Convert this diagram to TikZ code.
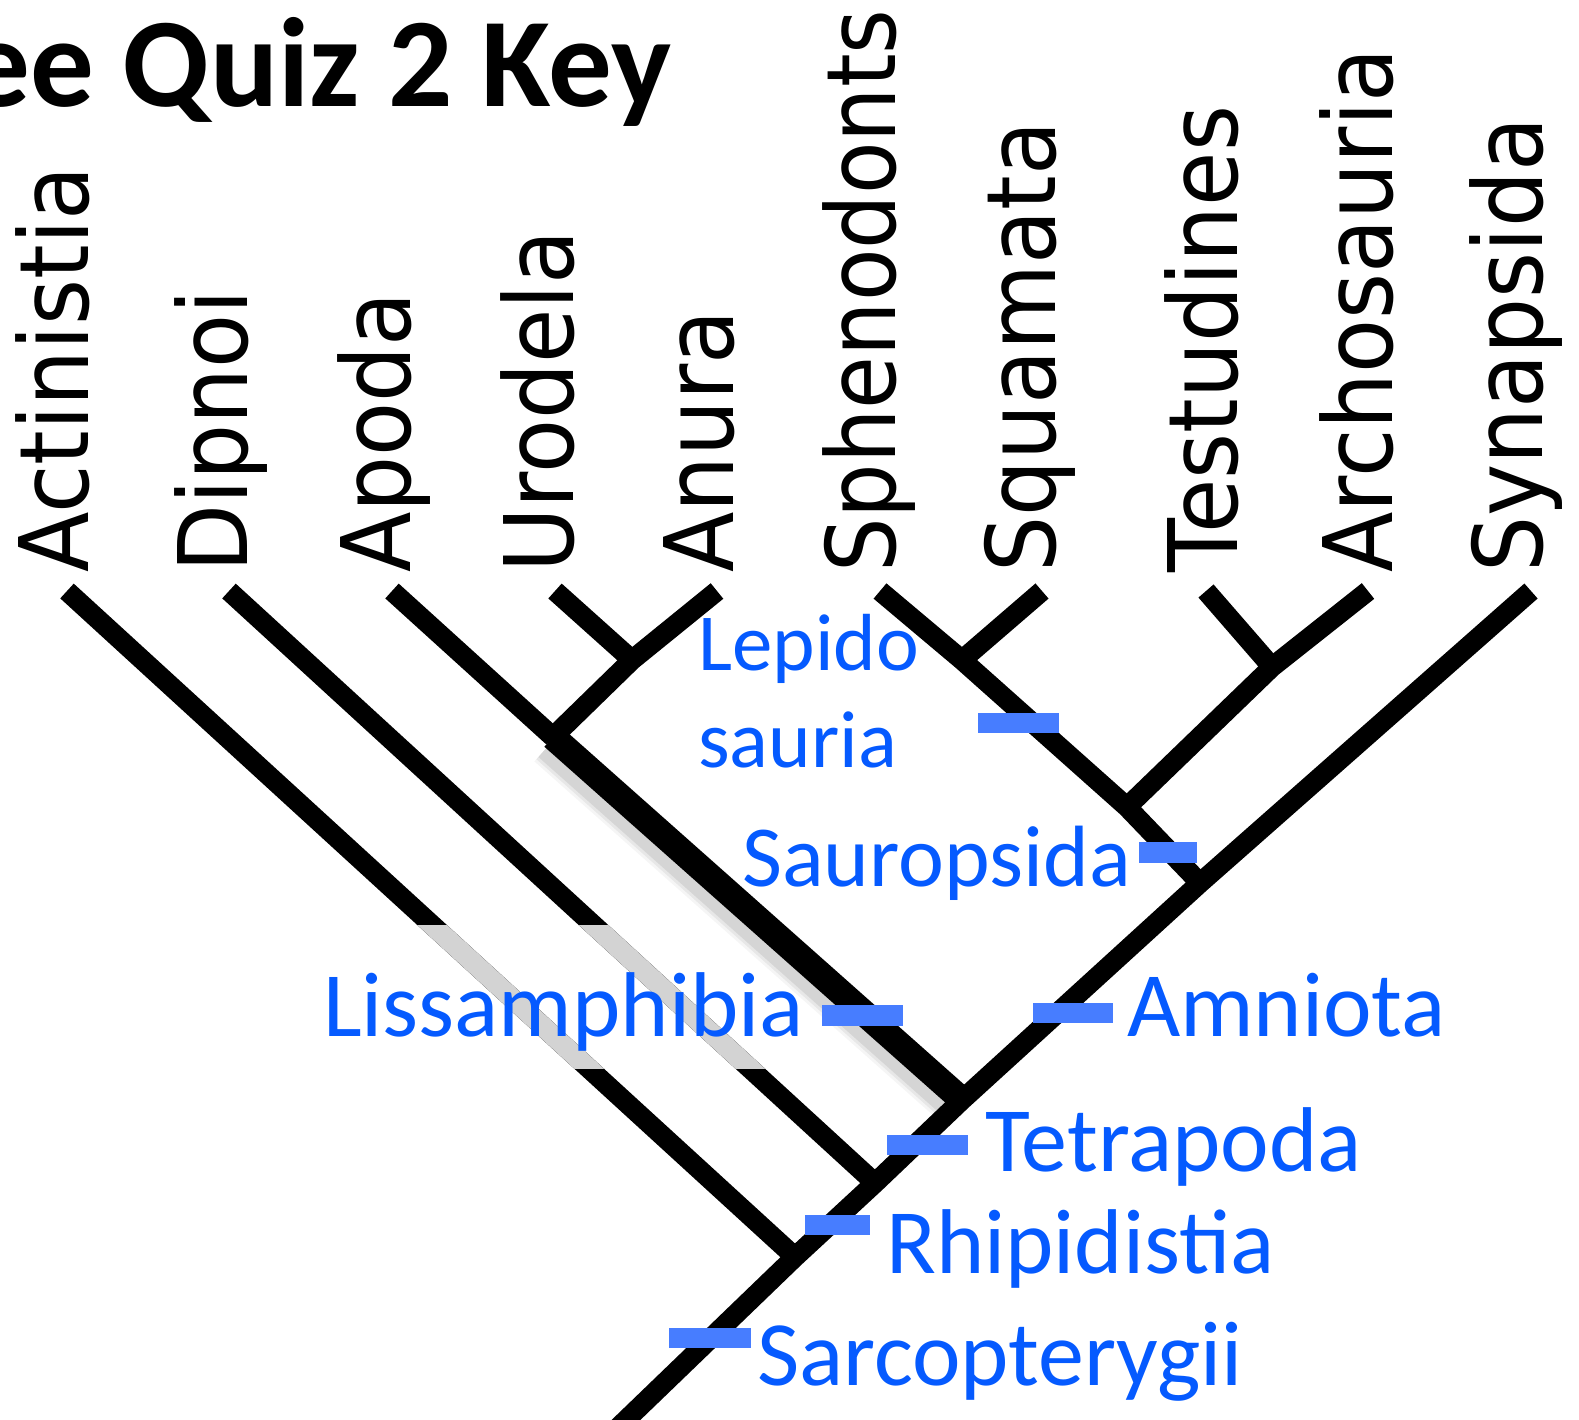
\documentclass[tikz,border=0pt]{standalone}
\usepackage{fontspec}
\newfontfamily\labfont[FakeStretch=0.92]{DejaVu Sans}
\newfontfamily\labfontn[FakeStretch=0.895]{DejaVu Sans}
\newfontfamily\calfont{Carlito}
\usetikzlibrary{calc}
\definecolor{tickblue}{RGB}{71,125,255}
\definecolor{txtblue}{RGB}{5,90,255}
\definecolor{lgray}{RGB}{211,211,211}
\begin{document}
\begin{tikzpicture}[x=1pt,y=-1pt,
  branch/.style={line width=20pt, line cap=butt, line join=miter},
  thickbranch/.style={line width=26pt, line cap=butt},
  endext/.style={shorten >=-8pt},
  taxon/.style={rotate=90, anchor=base west, inner sep=0pt, font=\labfont\fontsize{96}{96}\selectfont},
  clade/.style={anchor=base west, inner sep=0pt, text=txtblue, font=\calfont\fontsize{92}{95}\selectfont},
  tickbar/.style={fill=tickblue, draw=none}
]
\useasboundingbox (0,0) rectangle (1579,1419);

% tips
\coordinate (tA) at (67,591);
\coordinate (tD) at (229,591);
\coordinate (tAp) at (392,591);
\coordinate (tU) at (555,591);
\coordinate (tAn) at (717,591);
\coordinate (tSp) at (880,591);
\coordinate (tSq) at (1042,591);
\coordinate (tT) at (1206,591);
\coordinate (tAr) at (1368,591);
\coordinate (tSy) at (1531,591);
% internal nodes
\coordinate (R7) at (632,660);
\coordinate (R8) at (553,737);
\coordinate (R5) at (962,660);
\coordinate (R6) at (1272,667);
\coordinate (R4) at (1127,807);
\coordinate (R3) at (1200,883);
\coordinate (R2) at (962,1100);
\coordinate (R1) at (875,1183);
\coordinate (R0) at (795,1257);
\coordinate (root) at (600,1445);

% shadow of the Lissamphibia stem
\foreach \w/\o in {44/0.04,38/0.06,32/0.08}{
  \draw[line width=\w pt, black, opacity=\o, line cap=butt]
    ($(R8)+(-4,8)$) -- ($(R2)+(-4,8)$);
}

% tree
\draw[branch] (tSy) -- (R3) -- (R2) -- (R1) -- (R0) -- (root);
\draw[branch,endext] (tA) -- (R0);
\draw[branch,endext] (tD) -- (R1);
\draw[branch] (tAp) -- (R8);
\draw[thickbranch,endext] (R8) -- (R2);
\draw[branch,endext] (tU) -- (R7);
\draw[branch,endext] (tAn) -- (R7) -- (R8);
\draw[branch,endext] (tSp) -- (R5) -- (R4) -- (R3);
\draw[branch,endext] (tSq) -- (R5);
\draw[branch,endext] (tT) -- (R6);
\draw[branch,endext] (tAr) -- (R6) -- (R4);

% grey faded parts
\begin{scope}
  \clip (0,925) rectangle (800,1068);
  \draw[branch,lgray] (tA) -- (R0);
  \draw[branch,lgray] (tD) -- (R1);
\end{scope}

% taxon labels
\node[taxon] (lA) at (88,573) {Actinistia};
\node[taxon] (lD) at (247,573) {Dipnoi};
\node[taxon] (lAp) at (410,573) {Apoda};
\node[taxon] (lU) at (573,573) {Urodela};
\node[taxon] (lAn) at (733,573) {Anura};
\node[taxon, font=\labfontn\fontsize{96}{96}\selectfont] (lSp) at (895,573) {Sphenodonts};
\node[taxon] (lSq) at (1055,573) {Squamata};
\node[taxon] (lT) at (1237,573) {Testudines};
\node[taxon] (lAr) at (1392,573) {Archosauria};
\node[taxon] (lSy) at (1542,573) {Synapsida};

% title
\node[anchor=base east, inner sep=0pt, font=\calfont\bfseries\fontsize{127}{127}\selectfont] (title) at (672,106) {ee Quiz 2 Key};

% clade ticks
\fill[tickbar] (978,713) rectangle (1059,733);
\fill[tickbar] (1139,842) rectangle (1197,863);
\fill[tickbar] (822,1005) rectangle (903,1026);
\fill[tickbar] (1033,1003) rectangle (1113,1023);
\fill[tickbar] (887,1135) rectangle (968,1155);
\fill[tickbar] (805,1215) rectangle (870,1235);
\fill[tickbar] (669,1328) rectangle (751,1348);

% clade labels
\node[clade, font=\calfont\fontsize{81}{81}\selectfont] (cLep1) at (698,670) {Lepido};
\node[clade, font=\calfont\fontsize{81}{81}\selectfont] (cLep2) at (698,767) {sauria};
\node[clade, font=\calfont\fontsize{87}{87}\selectfont] (cSau) at (742,886) {Sauropsida};
\node[clade] (cLis) at (323,1036) {Lissamphibia};
\node[clade] (cAmn) at (1127,1036) {Amniota};
\node[clade] (cTet) at (985,1171) {Tetrapoda};
\node[clade] (cRhi) at (886,1273) {Rhipidistia};
\node[clade] (cSar) at (757,1385) {Sarcopterygii};
\end{tikzpicture}
\end{document}
